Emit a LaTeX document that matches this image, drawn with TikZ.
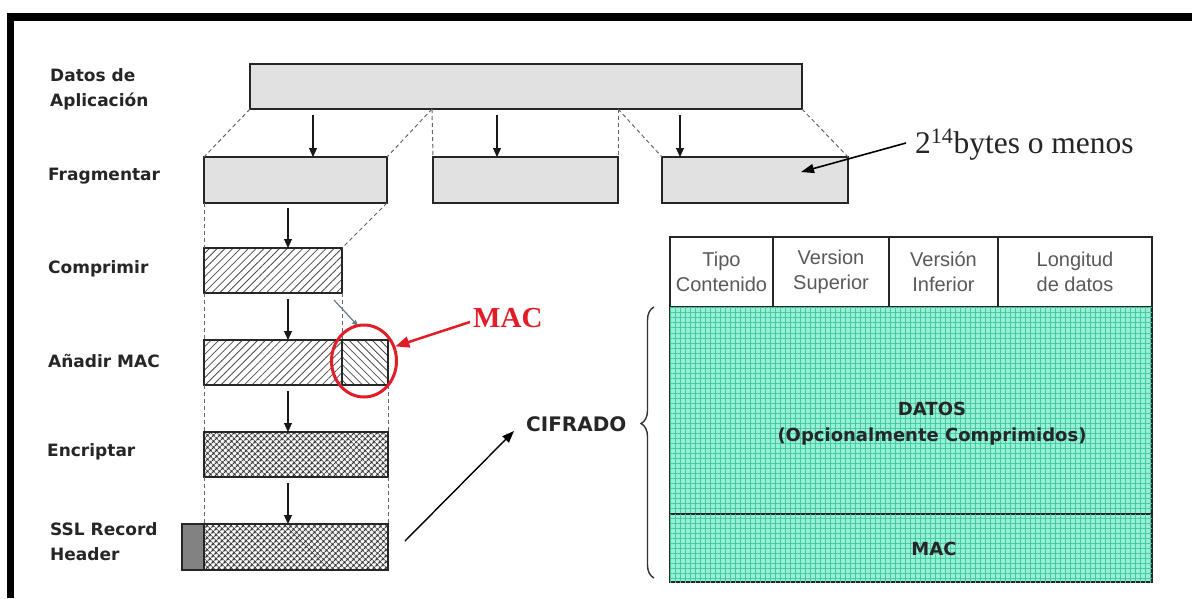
\documentclass[tikz,border=0pt]{standalone}
\usepackage{fontspec}
\setmainfont{Liberation Serif}
\setsansfont{Liberation Sans}
\newfontfamily\labfont{DejaVu Sans}
\usetikzlibrary{patterns.meta,arrows.meta,decorations.pathreplacing,shapes.geometric}
\definecolor{boxgray}{RGB}{225,225,225}
\definecolor{hdrgray}{RGB}{130,130,130}
\definecolor{mint}{RGB}{150,240,214}
\definecolor{mintline}{RGB}{70,200,160}
\definecolor{macred}{RGB}{225,30,40}
\definecolor{arrowgray}{RGB}{100,125,135}
\begin{document}
\begin{tikzpicture}[x=1pt,y=-1pt,
  box/.style={draw=black!85,line width=2pt,inner sep=0pt,outer sep=0pt,anchor=north west},
  graybox/.style={box,fill=boxgray},
  nelines/.style={box,pattern={Lines[angle=45,distance=5.5pt,line width=0.8pt]},pattern color=black!70},
  nwlines/.style={box,pattern={Lines[angle=-45,distance=5.5pt,line width=0.8pt]},pattern color=black!70},
  xhatch/.style={box,pattern={Hatch[angle=45,distance=4pt,line width=1.2pt]},pattern color=black!80},
  guide/.style={dash pattern=on 4pt off 3pt,draw=black!60,line width=1pt},
  flow/.style={-{Triangle[length=9pt,width=8pt]},line width=1.1pt,draw=black!90},
  lbl/.style={font=\labfont\bfseries\fontsize{17}{25}\selectfont,text=black!85,align=left,anchor=west,inner sep=0pt},
  cell/.style={draw=black!85,line width=2pt,anchor=north west,inner sep=0pt,outer sep=0pt,minimum height=70pt,align=center,font=\sffamily\fontsize{20}{25}\selectfont,text=black!65},
  mintbox/.style={box,fill=mint,postaction={pattern={Hatch[angle=0,distance=5pt,line width=1pt]},pattern color=mintline}},
  intext/.style={font=\labfont\bfseries\fontsize{18}{26}\selectfont,text=black!85,align=center,inner sep=0pt}
]
\useasboundingbox (0,0) rectangle (1192,598);
\fill[white] (0,0) rectangle (1192,598);
% frame
\fill[black] (7,13) rectangle (1192,21);
\fill[black] (7,13) rectangle (14,598);

% left labels
\node[lbl] (lapp) at (50,89) {Datos de\\Aplicación};
\node[lbl] (lfrag) at (48,176) {Fragmentar};
\node[lbl] (lcomp) at (48,269) {Comprimir};
\node[lbl] (lmac) at (48,361) {Añadir MAC};
\node[lbl] (lenc) at (47,452) {Encriptar};
\node[lbl] (lssl) at (50,542) {SSL Record\\Header};

% boxes
\node[graybox,minimum width=552pt,minimum height=45pt] (app) at (250,64) {};
\node[graybox,minimum width=183pt,minimum height=46pt] (f1) at (204,157) {};
\node[graybox,minimum width=185pt,minimum height=46pt] (f2) at (433,157) {};
\node[graybox,minimum width=186pt,minimum height=46pt] (f3) at (662,157) {};
\node[nelines,minimum width=138pt,minimum height=45pt] (comp) at (204,248) {};
\node[nelines,minimum width=138pt,minimum height=45pt] (macd) at (204,340) {};
\node[nwlines,minimum width=46pt,minimum height=45pt] (macm) at (342,340) {};
\node[xhatch,minimum width=184pt,minimum height=45pt] (enc) at (204,432) {};
\node[xhatch,minimum width=184pt,minimum height=46pt] (ssl) at (204,524) {};
\node[box,fill=hdrgray,anchor=north east,minimum width=22pt,minimum height=46pt] (hdr) at (204,524) {};

% split points
\coordinate (s1) at (432,109);
\coordinate (s2) at (618,109);

% dashed guides
\draw[guide] (app.south west) -- (f1.north west);
\draw[guide] (s1) -- (f1.north east);
\draw[guide] (s1) -- (f2.north west);
\draw[guide] (s2) -- (f2.north east);
\draw[guide] (s2) -- (f3.north west);
\draw[guide] (app.south east) -- (f3.north east);
\draw[guide] (f1.south west) -- (comp.north west);
\draw[guide] (f1.south east) -- (comp.north east);
\draw[guide] (comp.south west) -- (macd.north west);
\draw[guide] (comp.south east) -- (macd.north east);
\draw[guide] (macd.south west) -- (enc.north west);
\draw[guide] (macm.south east) -- (enc.north east);
\draw[guide] (enc.south west) -- (ssl.north west);
\draw[guide] (enc.south east) -- (ssl.north east);

% flow arrows
\coordinate (a1) at (313,115);
\coordinate (a2) at (497,115);
\coordinate (a3) at (680,115);
\coordinate (a4) at (288,208);
\coordinate (a5) at (288,299);
\coordinate (a6) at (288,391);
\coordinate (a7) at (288,483);
\draw[flow] (a1) -- (a1 |- f1.north);
\draw[flow] (a2) -- (a2 |- f2.north);
\draw[flow] (a3) -- (a3 |- f3.north);
\draw[flow] (a4) -- (a4 |- comp.north);
\draw[flow] (a5) -- (a5 |- macd.north);
\draw[flow] (a6) -- (a6 |- enc.north);
\draw[flow] (a7) -- (a7 |- ssl.north);

% small gray arrow into MAC
\coordinate (g1) at (334,300);
\coordinate (g2) at (358,326);
\draw[arrowgray,line width=1.2pt,-{Triangle[length=6pt,width=5pt]}] (g1) -- (g2);

% red circle and MAC label
\node[draw=macred,line width=3pt,ellipse,minimum width=65pt,minimum height=72pt,inner sep=0pt] (circ) at (364,361) {};
\node[font=\rmfamily\bfseries\fontsize{29}{30}\selectfont,text=macred,anchor=base west,inner sep=0pt] (maclbl) at (473,327) {MAC};
\coordinate (mst) at (470,322);
\draw[macred,line width=2.5pt,-{Triangle[length=14pt,width=11pt]}] (mst) -- (circ.25);

% 2^14 label
\node[font=\rmfamily\fontsize{31.5}{33}\selectfont,anchor=base west,inner sep=0pt,text=black!85] (bytes) at (915,153) {2\textsuperscript{14}bytes o menos};
\coordinate (bst) at (906,143);
\coordinate (bend) at (801,172);
\draw[line width=1.6pt,-{Triangle[length=13pt,width=9pt]}] (bst) -- (bend);

% CIFRADO
\node[font=\labfont\bfseries\fontsize{20}{22}\selectfont,text=black!85,anchor=west,inner sep=0pt] (cif) at (526,424) {CIFRADO};
\coordinate (cst) at (405,541);
\coordinate (cend) at (514,431);
\draw[line width=1.4pt,-{Triangle[length=12pt,width=9pt]}] (cst) -- (cend);
\draw[decorate,decoration={brace,amplitude=13pt,aspect=0.57},line width=1.4pt,black!80] (654,578) -- (654,307);

% header table
\node[cell,minimum width=103pt] (c1) at (670,237) {Tipo\\Contenido};
\node[cell,minimum width=116pt] (c2) at (773,237) {Version\\Superior};
\node[cell,minimum width=109pt] (c3) at (889,237) {Versión\\Inferior};
\node[cell,minimum width=154pt] (c4) at (998,237) {Longitud\\de datos};
\node[mintbox,minimum width=482pt,minimum height=207pt] (datos) at (670,307) {};
\node[mintbox,minimum width=482pt,minimum height=68pt] (macf) at (670,514) {};
\node[intext] (dtxt) at (932,424) {DATOS\\(Opcionalmente Comprimidos)};
\node[intext] (mtxt) at (934,549) {MAC};
\end{tikzpicture}
\end{document}
